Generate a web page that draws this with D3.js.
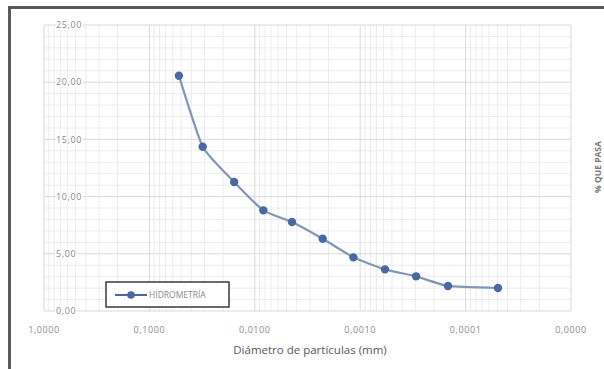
<!DOCTYPE html>
<html>
<head>
<meta charset="utf-8">
<script src="https://cdn.jsdelivr.net/npm/d3@7"></script>
<style>
  html, body { margin: 0; padding: 0; background: #fff; }
  svg { display: block; font-family: "Open Sans", "Noto Sans", sans-serif; }
</style>
</head>
<body>
<div id="chart"></div>
<script>
// diameters (mm) and % finer
const diametro = [0.0525, 0.0312, 0.0157, 0.0083, 0.00444, 0.00227, 0.00116, 0.000582, 0.000295, 0.000147, 0.0000493];
const porcentaje = [20.57, 14.36, 11.28, 8.80, 7.78, 6.32, 4.69, 3.64, 3.03, 2.19, 2.01];
const xTicks = [1, 0.1, 0.01, 0.001, 0.0001, 0.00001];
const xTickLabels = ['1,0000', '0,1000', '0,0100', '0,0010', '0,0001', '0,0000'];
const yTicks = [0, 5, 10, 15, 20, 25];
const yTickLabels = ['0,00', '5,00', '10,00', '15,00', '20,00', '25,00'];
const serie = 'HIDROMETRÍA';

const W = 604, H = 369;
const margin = { left: 44, top: 25, right: 33, bottom: 58 };

const svg = d3.select('#chart').append('svg')
  .attr('width', W)
  .attr('height', H);

const x = d3.scaleLog().domain([1, 0.00001]).range([margin.left, W - margin.right]);
const y = d3.scaleLinear().domain([0, 25]).range([H - margin.bottom, margin.top]);

// outer frame (only top and left edges are visible)
svg.append('line').attr('x1', 9).attr('x2', W).attr('y1', 7.5).attr('y2', 7.5)
  .attr('stroke', '#5a5a5a').attr('stroke-width', 3);
svg.append('line').attr('x1', 9.5).attr('x2', 9.5).attr('y1', 6).attr('y2', H)
  .attr('stroke', '#5a5a5a').attr('stroke-width', 3);

const grid = svg.append('g');

// minor grid
const yMinor = d3.range(0, 26).filter((v) => v % 5 !== 0);
grid.selectAll('line.ymin').data(yMinor).enter().append('line')
  .attr('class', 'ymin')
  .attr('x1', x.range()[0]).attr('x2', x.range()[1])
  .attr('y1', (d) => y(d)).attr('y2', (d) => y(d))
  .attr('stroke', '#ececec');

const xMinor = [];
xTicks.slice(1).forEach((t) => {
  for (let m = 2; m <= 9; m++) xMinor.push(m * t);
});
grid.selectAll('line.xmin').data(xMinor).enter().append('line')
  .attr('class', 'xmin')
  .attr('x1', (d) => x(d)).attr('x2', (d) => x(d))
  .attr('y1', y(0)).attr('y2', y(25))
  .attr('stroke', '#ececec');

// major grid
grid.selectAll('line.ymaj').data(yTicks).enter().append('line')
  .attr('class', 'ymaj')
  .attr('x1', x.range()[0]).attr('x2', x.range()[1])
  .attr('y1', (d) => y(d)).attr('y2', (d) => y(d))
  .attr('stroke', '#d9d9d9');
grid.selectAll('line.xmaj').data(xTicks).enter().append('line')
  .attr('class', 'xmaj')
  .attr('x1', (d) => x(d)).attr('x2', (d) => x(d))
  .attr('y1', y(0)).attr('y2', y(25))
  .attr('stroke', '#d9d9d9');

// y labels sit inside the plot, left aligned
svg.selectAll('text.ylab').data(yTicks).enter().append('text')
  .attr('class', 'ylab')
  .attr('x', 56)
  .attr('y', (d) => y(d))
  .attr('dy', '0.35em')
  .attr('font-size', 9)
  .attr('letter-spacing', 0.6)
  .attr('fill', '#8a8a8a')
  .attr('stroke', '#fff').attr('stroke-width', 3).attr('paint-order', 'stroke')
  .text((d, i) => yTickLabels[i]);

// x labels
svg.selectAll('text.xlab').data(xTicks).enter().append('text')
  .attr('class', 'xlab')
  .attr('x', (d) => x(d))
  .attr('y', 330)
  .attr('dy', '0.35em')
  .attr('text-anchor', 'middle')
  .attr('font-size', 9)
  .attr('letter-spacing', 0.6)
  .attr('fill', '#8a8a8a')
  .text((d, i) => xTickLabels[i]);

svg.append('text')
  .attr('x', 310).attr('y', 350).attr('dy', '0.35em')
  .attr('text-anchor', 'middle')
  .attr('font-size', 11.5)
  .attr('fill', '#595959')
  .text('Diámetro de partículas (mm)');

// axis title squeezed against the right edge
svg.append('text')
  .attr('transform', 'translate(601,167) rotate(-90)')
  .attr('text-anchor', 'middle')
  .attr('font-size', 8.5)
  .attr('font-weight', 'bold')
  .attr('fill', '#777')
  .text('% QUE PASA');

// series (light smoothing, like a spreadsheet "smoothed line")
const pts = diametro.map((d, i) => [x(d), y(porcentaje[i])]);
const line = d3.line().curve(d3.curveCardinal.tension(0.5));
svg.append('path')
  .attr('d', line(pts))
  .attr('fill', 'none')
  .attr('stroke', '#8396b4')
  .attr('stroke-width', 2.2);
svg.selectAll('circle.pt').data(pts).enter().append('circle')
  .attr('class', 'pt')
  .attr('cx', (d) => d[0]).attr('cy', (d) => d[1])
  .attr('r', 4.2)
  .attr('fill', '#4a69a3');

// legend
const lg = svg.append('g').attr('transform', 'translate(106,282)');
lg.append('rect').attr('width', 123).attr('height', 25)
  .attr('fill', '#fff').attr('stroke', '#3a3a3a').attr('stroke-width', 1.5);
lg.append('line').attr('x1', 9).attr('x2', 41).attr('y1', 13).attr('y2', 13)
  .attr('stroke', '#4a69a3').attr('stroke-width', 2);
lg.append('circle').attr('cx', 25).attr('cy', 13).attr('r', 3.8).attr('fill', '#4a69a3');
lg.append('text').attr('x', 43).attr('y', 13).attr('dy', '0.35em')
  .attr('font-size', 8.5)
  .attr('fill', '#8a8a8a')
  .text(serie);
</script>
</body>
</html>
